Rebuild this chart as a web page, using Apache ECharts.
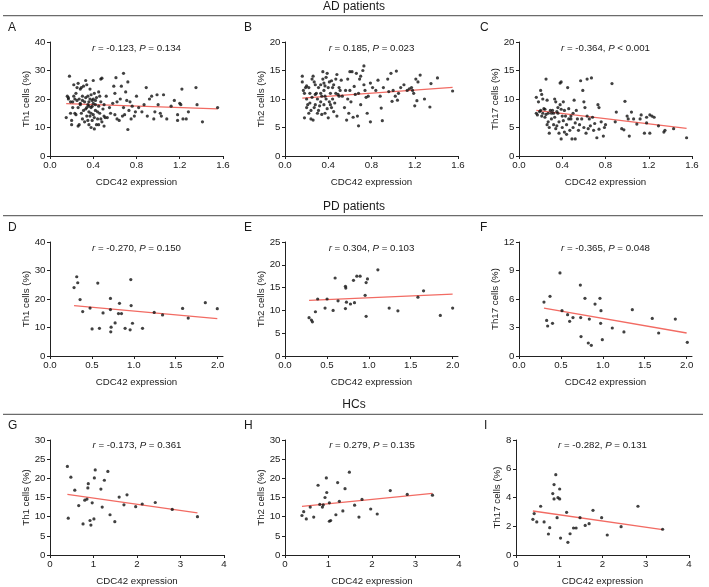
<!DOCTYPE html>
<html><head><meta charset="utf-8">
<script src="https://cdn.jsdelivr.net/npm/echarts@6/dist/echarts.min.js"></script>
<style>html,body{margin:0;padding:0;background:#fff}#c{width:709px;height:587px}</style>
</head><body><div id="c"></div>
<script>
// ---- data ----
const groupTitles = ['AD patients', 'PD patients', 'HCs'];
const panelLetters = ['A','B','C','D','E','F','G','H','I'];
const yNames = ['Th1 cells (%)','Th2 cells (%)','Th17 cells (%)'];
const xName = 'CDC42 expression';
const statsR = ['-0.123','0.185','-0.364','-0.270','0.304','-0.365','-0.173','0.279','-0.282'];
const statsP = ['= 0.134','= 0.023','< 0.001','= 0.150','= 0.103','= 0.048','= 0.361','= 0.135','= 0.131'];
const yMax = [40,20,20,40,25,12,30,30,8];
const yStep = [10,5,5,10,5,3,5,5,2];
const adTicks = [0,0.4,0.8,1.2,1.6];
const pdTicks = [0,0.5,1,1.5,2];
const hcTicks = [0,1,2,3,4];

const adTh1 = [[0.15,13.5],[0.16,21],[0.17,20],[0.17,20.5],[0.18,28],[0.19,19],[0.19,15],[0.2,11],[0.2,12.5],[0.21,17],[0.21,19],[0.22,25],[0.22,21],[0.23,15],[0.23,20],[0.24,22],[0.24,14.5],[0.25,19.5],[0.25,24],[0.26,25.5],[0.26,10.5],[0.26,17],[0.27,11],[0.27,20],[0.28,23.5],[0.28,18],[0.28,18.5],[0.29,24],[0.29,15],[0.3,21],[0.3,13],[0.3,19.5],[0.31,16],[0.31,24.5],[0.32,12],[0.32,19],[0.33,26.5],[0.33,16.5],[0.33,20.5],[0.34,25],[0.34,14],[0.34,17],[0.35,21],[0.35,18],[0.35,12.5],[0.36,11],[0.36,15.5],[0.36,19],[0.36,17.5],[0.37,20],[0.37,23.5],[0.37,14],[0.38,10],[0.38,17],[0.38,21.5],[0.38,15],[0.39,12.5],[0.39,19.5],[0.39,17.5],[0.4,26.5],[0.4,14.5],[0.4,20],[0.4,18.5],[0.41,9.5],[0.41,22],[0.41,13.5],[0.42,18],[0.42,16],[0.42,19.5],[0.43,11],[0.43,20.5],[0.44,13],[0.44,15.5],[0.45,17.5],[0.45,22.5],[0.45,11],[0.46,15],[0.46,21],[0.47,27],[0.47,19],[0.47,13],[0.48,12],[0.48,27.3],[0.49,16.5],[0.5,10.5],[0.5,18],[0.5,14],[0.51,13.5],[0.52,21],[0.53,13.5],[0.55,17],[0.56,15],[0.58,18.5],[0.59,24.5],[0.6,14.5],[0.6,22],[0.61,27.5],[0.62,13],[0.62,19],[0.64,12.5],[0.65,20],[0.66,24.5],[0.67,14],[0.68,29],[0.68,17],[0.69,14.5],[0.7,22.5],[0.71,19.5],[0.72,26],[0.72,9.3],[0.73,16],[0.74,19],[0.75,13],[0.76,17.5],[0.78,14],[0.79,15.5],[0.8,21],[0.82,17],[0.85,15.5],[0.87,18],[0.89,24],[0.9,14],[0.92,20],[0.94,21],[0.96,13],[0.97,15.5],[0.99,21.5],[1.0,18],[1.02,15],[1.03,14],[1.05,21.5],[1.08,13],[1.12,17.5],[1.15,19.5],[1.18,12.5],[1.18,14.5],[1.2,18.5],[1.21,18],[1.22,23.5],[1.23,13],[1.26,13],[1.28,15.5],[1.35,24],[1.36,18],[1.41,12],[1.55,17]];
const adTh2 = [[0.16,14],[0.16,13],[0.17,11.5],[0.18,11],[0.18,6.7],[0.19,12],[0.2,10],[0.2,8.5],[0.2,12.3],[0.21,9],[0.22,7.5],[0.22,12],[0.23,11],[0.23,9.3],[0.24,8],[0.24,6.5],[0.25,13.5],[0.25,10.3],[0.26,6.3],[0.26,14],[0.27,8.5],[0.27,13],[0.28,12.5],[0.28,9],[0.28,10.8],[0.29,11],[0.3,7.5],[0.3,10],[0.31,12],[0.31,8],[0.32,8.8],[0.33,9.5],[0.33,12.5],[0.33,11],[0.34,7.3],[0.34,10.5],[0.35,13.5],[0.35,14.8],[0.36,11.5],[0.36,9],[0.36,12.8],[0.37,12.3],[0.37,7.5],[0.37,10.5],[0.38,13.8],[0.38,10],[0.39,8.3],[0.39,14.5],[0.4,12],[0.4,6.7],[0.41,9.5],[0.41,13],[0.42,11],[0.42,9],[0.43,13.2],[0.43,8.5],[0.44,10],[0.44,12],[0.45,12.5],[0.45,7.8],[0.46,9.3],[0.47,11],[0.47,13.5],[0.48,14.3],[0.48,7],[0.49,10.8],[0.5,12],[0.5,10.5],[0.51,11.5],[0.52,13.3],[0.53,10.5],[0.55,8.5],[0.56,11.5],[0.57,6.3],[0.58,10],[0.58,13.5],[0.59,7.5],[0.6,11.5],[0.6,14.8],[0.61,9.5],[0.62,14.8],[0.63,6.8],[0.64,12.2],[0.65,10.8],[0.66,14.5],[0.67,7],[0.68,5.3],[0.68,11],[0.69,13.5],[0.7,9],[0.7,14],[0.72,15],[0.73,15.8],[0.73,12.5],[0.74,11.5],[0.75,10.3],[0.76,7.5],[0.77,10.5],[0.79,6],[0.79,12.8],[0.81,12],[0.84,11.5],[0.86,13.3],[0.88,10.5],[0.89,8.4],[0.9,6.2],[0.91,12],[0.95,13.5],[0.96,11.3],[0.98,14.5],[0.99,9.6],[1.0,11.5],[1.02,10.5],[1.03,14.9],[1.04,9.8],[1.05,11],[1.07,12],[1.1,12.5],[1.13,11.5],[1.15,11.8],[1.17,12],[1.18,11.5],[1.19,11],[1.2,8.8],[1.21,13.5],[1.22,9.7],[1.23,13],[1.25,14.2],[1.29,10],[1.34,8.6],[1.35,12.7],[1.41,13.7],[1.55,11.4]];
const adTh17 = [[0.16,10.3],[0.16,7.5],[0.17,7.2],[0.18,9.5],[0.19,7.8],[0.2,8],[0.2,11.5],[0.21,10.8],[0.21,7],[0.22,10],[0.22,7.5],[0.23,8.3],[0.24,8.2],[0.24,6.8],[0.25,13.5],[0.25,7.3],[0.26,9.8],[0.26,5.5],[0.27,7.5],[0.27,6],[0.28,5],[0.28,4],[0.29,8],[0.3,7.5],[0.3,6.5],[0.31,8],[0.32,5.5],[0.32,7.5],[0.33,10],[0.33,6.8],[0.34,9.5],[0.34,4.8],[0.35,7.8],[0.35,5.3],[0.36,7.5],[0.36,8.5],[0.37,4],[0.37,6],[0.38,9],[0.38,12.8],[0.39,13],[0.39,8.2],[0.39,3],[0.4,7],[0.4,5],[0.41,9.5],[0.41,6.2],[0.42,8],[0.42,4.2],[0.43,7],[0.44,3.8],[0.44,5.5],[0.45,12],[0.46,8.3],[0.46,6.5],[0.47,4.5],[0.48,7],[0.48,6.5],[0.49,3],[0.5,5],[0.5,7.5],[0.51,9.8],[0.52,3],[0.52,5.8],[0.53,8],[0.54,6.5],[0.55,4.5],[0.56,5.5],[0.57,13.2],[0.58,6.5],[0.59,11.5],[0.6,9.5],[0.6,5],[0.61,8.5],[0.62,4],[0.63,13.5],[0.63,7],[0.64,4.8],[0.65,6.5],[0.66,5.3],[0.67,13.7],[0.68,6.8],[0.69,4.5],[0.7,5.7],[0.72,3.2],[0.73,9],[0.74,8.5],[0.74,4.7],[0.76,6],[0.78,3.5],[0.79,5],[0.8,5.5],[0.86,12.7],[0.89,6],[0.9,7.7],[0.95,4.8],[0.97,4.6],[0.98,9.6],[1.0,7],[1.01,6.5],[1.02,3.5],[1.04,7.7],[1.06,6.5],[1.09,5.6],[1.12,6.5],[1.13,7.2],[1.16,4],[1.18,6.8],[1.18,5.8],[1.21,4],[1.21,7.2],[1.23,7],[1.25,6.8],[1.29,5.3],[1.34,4.2],[1.35,4.5],[1.43,4.8],[1.55,3.2]];
const pdTh1 = [[0.287,24.0],[0.319,27.8],[0.331,25.7],[0.359,19.8],[0.39,15.6],[0.478,16.8],[0.502,9.5],[0.57,25.6],[0.59,9.7],[0.633,15.1],[0.721,20.2],[0.721,16.3],[0.729,10.1],[0.725,8.5],[0.777,11.6],[0.817,14.9],[0.829,18.5],[0.853,14.9],[0.896,9.7],[0.956,9.2],[0.964,26.8],[0.968,17.7],[0.984,11.5],[1.104,9.7],[1.243,15.3],[1.343,14.4],[1.582,16.7],[1.649,13.3],[1.853,18.7],[1.996,16.6]];
const pdTh2 = [[0.287,8.4],[0.315,7.9],[0.327,7.5],[0.363,9.7],[0.39,12.5],[0.478,10.5],[0.502,12.5],[0.574,10.0],[0.598,17.1],[0.633,12.1],[0.721,15.3],[0.725,14.9],[0.721,10.4],[0.733,11.8],[0.781,11.4],[0.817,16.6],[0.829,11.7],[0.857,17.5],[0.896,17.5],[0.956,13.3],[0.968,16.1],[0.984,16.9],[0.968,8.7],[1.108,18.9],[1.243,10.5],[1.347,9.9],[1.586,12.9],[1.653,14.3],[1.853,8.9],[2.0,10.5]];
const pdTh17 = [[0.298,5.68],[0.33,3.75],[0.342,3.16],[0.37,6.28],[0.40,3.44],[0.489,8.74],[0.513,4.77],[0.58,4.35],[0.604,3.65],[0.644,4.04],[0.732,7.47],[0.736,4.04],[0.74,2.04],[0.787,6.07],[0.827,1.37],[0.839,3.89],[0.863,1.12],[0.907,5.47],[0.966,6.07],[0.978,4.77],[0.974,3.44],[0.994,1.72],[1.113,2.95],[1.252,2.53],[1.352,4.88],[1.59,3.96],[1.666,2.42],[1.865,3.89],[2.008,1.44]];
const hcTh1 = [[0.40,23.1],[0.42,9.6],[0.48,20.3],[0.57,16.9],[0.66,12.9],[0.76,8.1],[0.80,14.3],[0.85,14.6],[0.87,17.5],[0.88,18.6],[0.92,9.0],[0.94,7.8],[0.97,13.6],[1.01,9.4],[1.02,20.1],[1.04,22.2],[1.17,17.2],[1.20,12.5],[1.25,19.5],[1.33,21.8],[1.38,10.5],[1.49,8.7],[1.59,15.1],[1.70,13.1],[1.77,15.7],[1.97,12.6],[2.12,13.3],[2.42,13.7],[2.81,11.9],[3.39,10.0]];
const hcTh2 = [[0.39,10.3],[0.43,11.3],[0.49,9.4],[0.58,12.5],[0.66,9.9],[0.76,18.2],[0.80,13.2],[0.86,12.5],[0.88,13.1],[0.92,15.0],[0.96,16.3],[0.95,20.1],[1.02,13.6],[1.02,8.8],[1.05,9.0],[1.17,10.5],[1.21,18.9],[1.25,14.0],[1.33,11.5],[1.38,17.3],[1.48,21.6],[1.60,13.0],[1.70,9.9],[1.77,14.5],[1.97,12.0],[2.12,10.7],[2.42,16.8],[2.81,15.8],[3.39,15.6]];
const hcTh17 = [[0.39,2.48],[0.42,2.88],[0.48,2.30],[0.57,3.39],[0.65,2.30],[0.75,1.46],[0.78,1.90],[0.85,4.27],[0.88,3.90],[0.88,4.90],[0.92,5.59],[0.95,2.60],[0.97,3.99],[1.01,3.90],[1.01,4.59],[1.03,1.18],[1.17,2.97],[1.20,0.88],[1.25,1.48],[1.33,1.88],[1.39,1.88],[1.48,2.60],[1.60,2.06],[1.69,2.18],[1.78,3.11],[1.98,2.60],[2.11,1.39],[2.43,1.97],[2.82,3.39],[3.39,1.79]];
// regression line end points
const fitA = [[0.15,18.4],[1.55,16.5]];
const fitB = [[0.16,10.15],[1.55,12.05]];
const fitC = [[0.16,8.0],[1.55,4.85]];
const fitD = [[0.287,17.7],[1.996,13.1]];
const fitE = [[0.287,12.2],[2.0,13.55]];
const fitF = [[0.298,5.05],[2.0,2.42]];
const fitG = [[0.40,15.8],[3.39,11.0]];
const fitH = [[0.39,12.7],[3.39,16.1]];
const fitI = [[0.39,3.06],[3.39,1.76]];

const scatterData = [adTh1, adTh2, adTh17, pdTh1, pdTh2, pdTh17, hcTh1, hcTh2, hcTh17];
const fitData = [fitA, fitB, fitC, fitD, fitE, fitF, fitG, fitH, fitI];

// ---- layout / style ----
const FONT = '"Liberation Sans", Arial, Helvetica, sans-serif';
const TXT = '#1a1a1a';
const grids = [
  {left:50, top:42, width:173, height:114},
  {left:285, top:42, width:173, height:114},
  {left:519, top:42, width:173, height:114},
  {left:50, top:242, width:173, height:114},
  {left:285, top:242, width:173, height:114},
  {left:519, top:242, width:173, height:114},
  {left:50, top:440, width:174, height:115},
  {left:285, top:440, width:174, height:115},
  {left:516, top:440, width:173, height:115}
];
const yNameGap = [15.5,15.5,15,15.5,15.5,14.7,16.5,16,13];
const xConf = [
  {max:1.6, interval:0.4, ticks:adTicks, fmt:v=>v.toFixed(1)},
  {max:2.064, interval:0.5, ticks:pdTicks, fmt:v=>v.toFixed(1)},
  {max:4, interval:1, ticks:hcTicks, fmt:v=>String(v)}
];
const axisLineStyle = {color:'#222', width:1};

const xAxes = [], yAxes = [], series = [], titles = [];
for (let i = 0; i < 9; i++) {
  const row = Math.floor(i/3), col = i%3;
  const xc = xConf[row];
  xAxes.push({
    type:'value', gridIndex:i, min:0, max:xc.max, interval:xc.interval,
    name:xName, nameLocation:'middle', nameGap:21,
    nameTextStyle:{fontFamily:FONT, fontSize:9.7, color:TXT},
    axisLine:{show:true, onZero:false, lineStyle:axisLineStyle},
    axisTick:{show:true, length:3, lineStyle:axisLineStyle, customValues:xc.ticks},
    axisLabel:{fontFamily:FONT, fontSize:9.7, color:TXT, margin:4.5, customValues:xc.ticks, formatter:xc.fmt},
    splitLine:{show:false}
  });
  yAxes.push({
    type:'value', gridIndex:i, min:0, max:yMax[i], interval:yStep[i],
    name:yNames[col], nameLocation:'middle', nameGap:yNameGap[i],
    nameTextStyle:{fontFamily:FONT, fontSize:9.7, color:TXT},
    axisLine:{show:true, onZero:false, lineStyle:axisLineStyle},
    axisTick:{show:true, length:3, lineStyle:axisLineStyle},
    axisLabel:{fontFamily:FONT, fontSize:9.7, color:TXT, margin:4.5},
    splitLine:{show:false}
  });
  series.push({
    type:'scatter', xAxisIndex:i, yAxisIndex:i, data:scatterData[i],
    symbol:'circle', symbolSize:3.2, itemStyle:{color:'#111'}, silent:true, z:3
  });
  series.push({
    type:'line', xAxisIndex:i, yAxisIndex:i, data:fitData[i],
    symbol:'none', lineStyle:{color:'#f26b63', width:1.3}, silent:true, z:2
  });
  const g = grids[i];
  titles.push({
    text:'{i|r} = ' + statsR[i] + ', {i|P} ' + statsP[i],
    left:g.left + g.width/2, top:g.top + (row === 2 ? 0 : 1.5), textAlign:'center', padding:0,
    textStyle:{fontFamily:FONT, fontSize:9.7, fontWeight:'normal', color:TXT,
      rich:{i:{fontFamily:FONT, fontSize:9.7, fontStyle:'italic', color:TXT}}}
  });
}

const headerY = [6.5, 207, 405];
const ruleY = [15.7, 215.7, 414.3];
const letterPos = [[8,28],[244,28],[480,28],[8,228],[244,228],[480,228],[8,426],[244,426],[484,426]];
const graphic = [];
for (let r = 0; r < 3; r++) {
  graphic.push({type:'text', x:354, y:headerY[r], style:{text:groupTitles[r], font:'12px ' + FONT, fill:TXT, align:'center', verticalAlign:'middle'}});
  graphic.push({type:'line', shape:{x1:3, y1:ruleY[r], x2:703, y2:ruleY[r]}, style:{stroke:'#6b6b6b', lineWidth:1.2}});
}
for (let i = 0; i < 9; i++) {
  graphic.push({type:'text', x:letterPos[i][0], y:letterPos[i][1], style:{text:panelLetters[i], font:'12px ' + FONT, fill:TXT, align:'left', verticalAlign:'middle'}});
}

const chart = echarts.init(document.getElementById('c'), null, {renderer:'canvas'});
chart.setOption({
  animation:false,
  backgroundColor:'#fff',
  title:titles,
  grid:grids,
  xAxis:xAxes,
  yAxis:yAxes,
  series:series,
  graphic:graphic
});
</script></body></html>
